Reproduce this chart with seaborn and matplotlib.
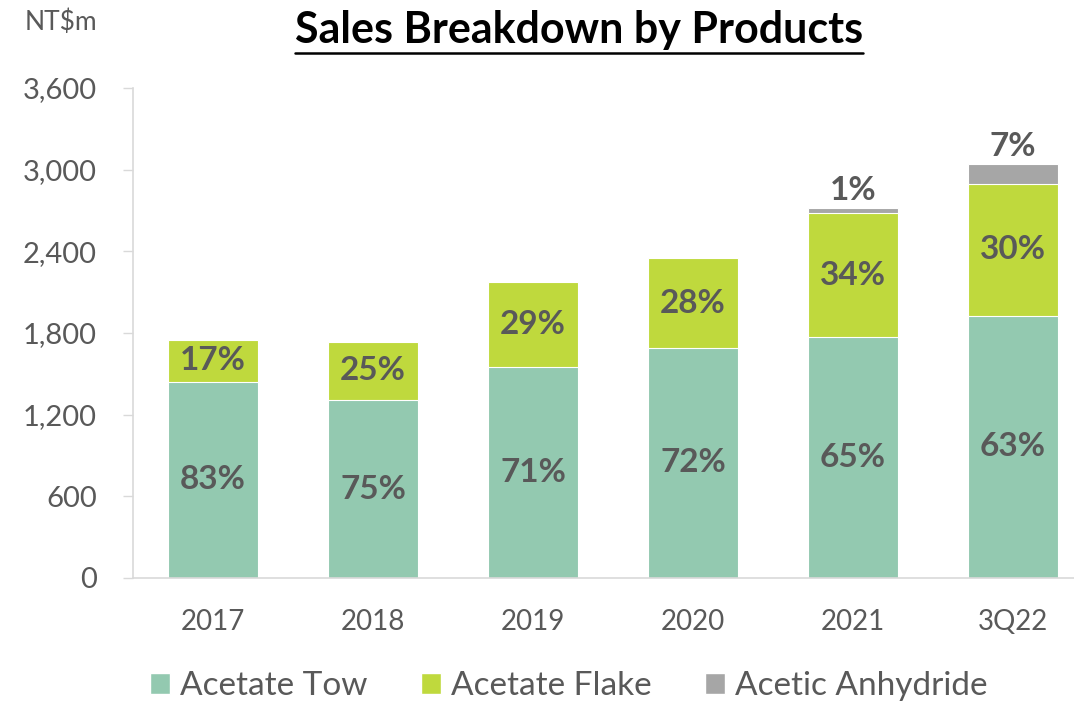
import matplotlib
matplotlib.use("Agg")
import matplotlib.pyplot as plt
from matplotlib.patches import Patch
from matplotlib.lines import Line2D
import seaborn as sns
import pandas as pd

# Values (NT$m)
periods = ['2017', '2018', '2019', '2020', '2021', '3Q22']
acetate_tow = [1443, 1306, 1548, 1690, 1768, 1927]
acetate_flake = [306, 430, 626, 660, 910, 966]
acetic_anhydride = [0, 0, 0, 0, 37, 147]

tow_labels = ['83%', '75%', '71%', '72%', '65%', '63%']
flake_labels = ['17%', '25%', '29%', '28%', '34%', '30%']
anhydride_labels = ['', '', '', '', '1%', '7%']

y_ticks = [0, 600, 1200, 1800, 2400, 3000, 3600]

TOW = '#93C9B0'
FLAKE = '#BFD93D'
ANHY = '#A6A6A6'
TXT = '#595959'
AXIS = '#D9D9D9'

sns.set_style("white")
plt.rcParams['font.family'] = ['Lato', 'DejaVu Sans']

df = pd.DataFrame({'period': periods, 'tow': acetate_tow,
                   'flake': acetate_flake, 'anhydride': acetic_anhydride})
df['tow_flake'] = df['tow'] + df['flake']
df['total'] = df['tow_flake'] + df['anhydride']

fig = plt.figure(figsize=(10.74, 7.02), dpi=100)
ax = fig.add_axes([133 / 1074, 124 / 702, 960 / 1074, 490 / 702])

# stacked bars drawn as overlapping cumulative layers
bw = 0.56
sns.barplot(data=df, x='period', y='total', color=ANHY, width=bw, ax=ax,
            saturation=1, edgecolor='white', linewidth=0.8)
sns.barplot(data=df, x='period', y='tow_flake', color=FLAKE, width=bw, ax=ax,
            saturation=1, edgecolor='white', linewidth=0.8)
sns.barplot(data=df, x='period', y='tow', color=TOW, width=bw, ax=ax,
            saturation=1, edgecolor='white', linewidth=0.8)

lab_kw = dict(ha='center', va='center', fontsize=24, fontweight='bold', color=TXT)
for i, row in df.iterrows():
    ax.text(i, row['tow'] / 2, tow_labels[i], **lab_kw)
    ax.text(i, row['tow'] + row['flake'] / 2, flake_labels[i], **lab_kw)
    if anhydride_labels[i]:
        ax.annotate(anhydride_labels[i], (i, row['total']), xytext=(0, 13),
                    textcoords='offset points', **lab_kw)

ax.set_ylim(0, 3600)
ax.set_xlim(-0.5, len(periods) - 0.5)
ax.set_yticks(y_ticks)
ax.set_yticklabels([f"{v:,}" for v in y_ticks])
ax.set_xlabel('')
ax.set_ylabel('')
ax.tick_params(axis='y', length=7, width=1, color=AXIS, labelsize=21,
               labelcolor=TXT, pad=19, direction='out', left=True)
ax.tick_params(axis='x', length=0, labelsize=20, labelcolor=TXT, pad=22)
for s in ['top', 'right']:
    ax.spines[s].set_visible(False)
for s in ['left', 'bottom']:
    ax.spines[s].set_color(AXIS)
    ax.spines[s].set_linewidth(1.2)

fig.text(25 / 1074, 1 - 22 / 702, 'NT$m', fontsize=19, color=TXT,
         ha='left', va='center')

title = fig.text(579 / 1074, 1 - 30 / 702, 'Sales Breakdown by Products',
                 fontsize=31, fontweight='bold', color='black',
                 ha='center', va='center')
fig.canvas.draw()
bb = title.get_window_extent().transformed(fig.transFigure.inverted())
uy = 1 - 53 / 702
fig.add_artist(Line2D([bb.x0, bb.x1], [uy, uy], color='black', linewidth=1.8,
                      transform=fig.transFigure))

handles = [Patch(facecolor=TOW, label='Acetate Tow'),
           Patch(facecolor=FLAKE, label='Acetate Flake'),
           Patch(facecolor=ANHY, label='Acetic Anhydride')]
fig.legend(handles=handles, loc='center', bbox_to_anchor=(569 / 1074, 1 - 686 / 702),
           ncol=3, frameon=False, fontsize=24, labelcolor=TXT,
           handlelength=0.6, handleheight=0.6, handletextpad=0.3,
           columnspacing=1.6)

fig.savefig('out.png', dpi=100)
